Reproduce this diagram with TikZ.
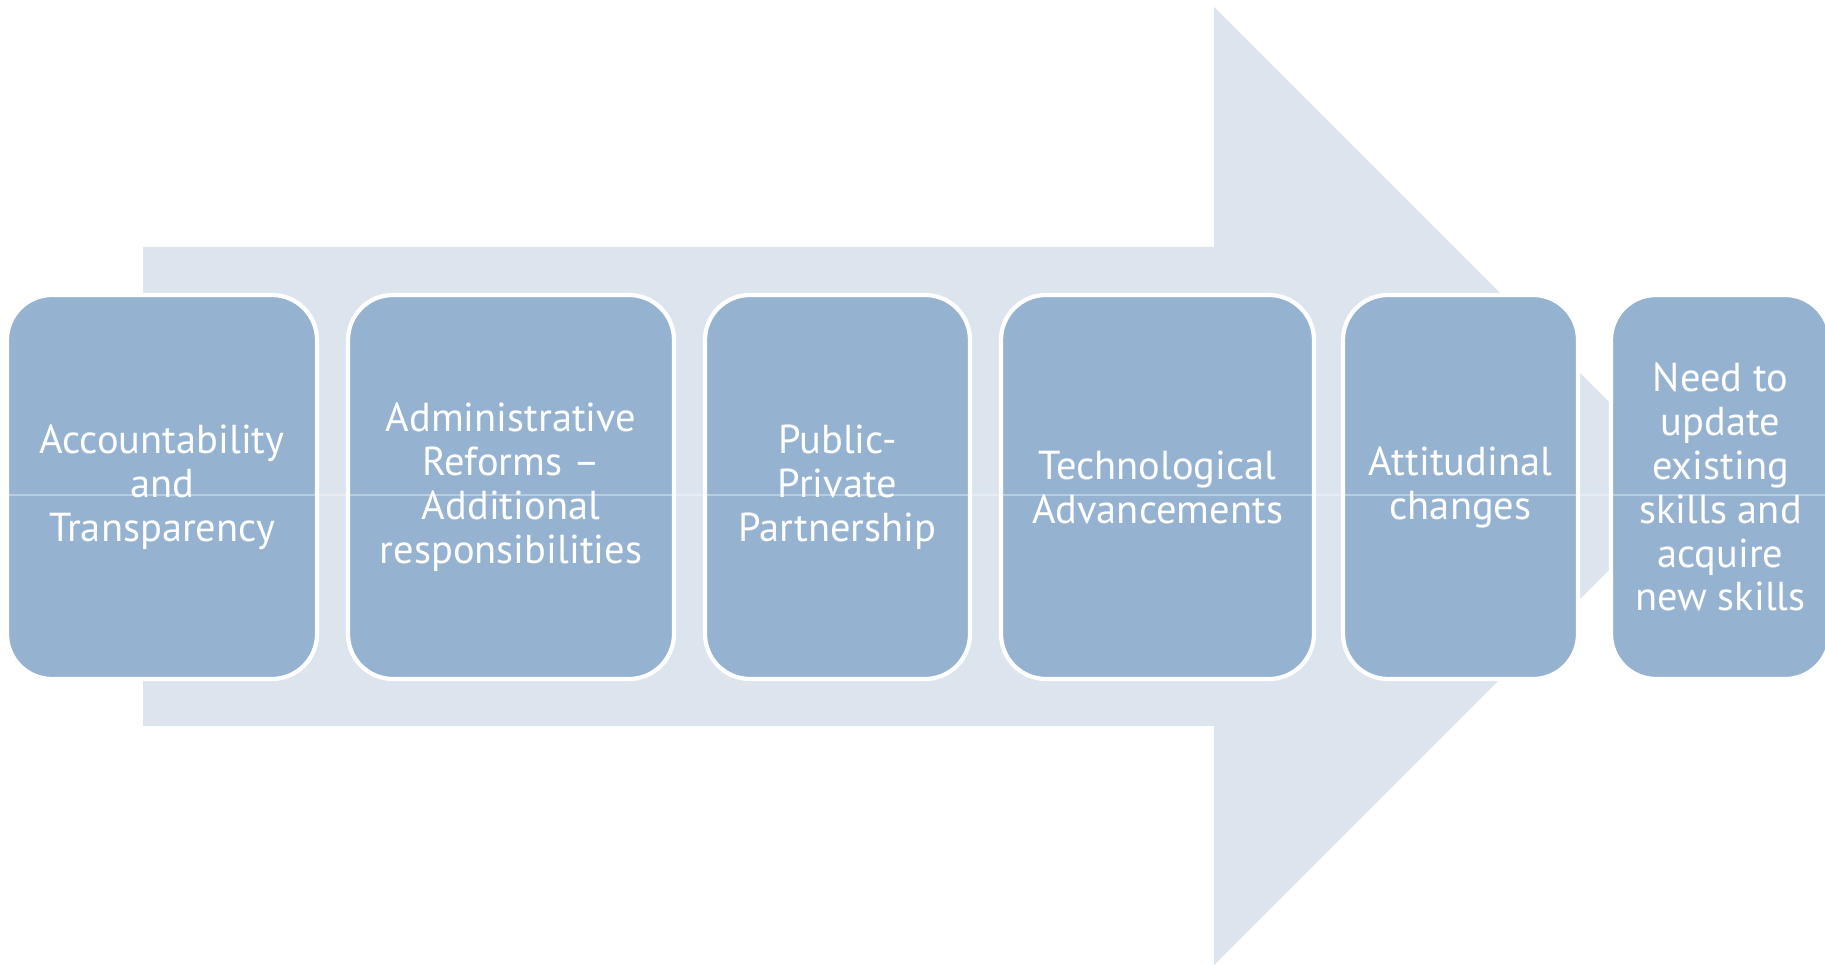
\documentclass[tikz,border=0pt]{standalone}
\usepackage{fontspec}
\setmainfont{PT Sans}
\definecolor{setaazul}{HTML}{DCE4EE}
\definecolor{caixaazul}{HTML}{95B3D1}
\tikzset{caixa/.style={draw=white, line width=1.2pt, fill=caixaazul, rounded corners=0.45cm,
		minimum height=3.84cm, inner sep=0pt, text=white, align=center,
		font=\fontsize{11.5}{12.5}\selectfont}}
\begin{document}
\begin{tikzpicture}[scale=1]  %Inicio
				\useasboundingbox (0,0) rectangle (18.25,9.64); %Tamanho da figura
					%Seta de fundo
				\fill[setaazul] (1.43,7.17) -- (12.14,7.17) -- (12.14,9.57) -- (16.93,4.78) -- (12.14,-0.01) -- (12.14,2.38) -- (1.43,2.38) -- cycle;
					%Caixas
				\node[caixa, minimum width=3.10cm] (account) at (1.62,4.77) {Accountability\\and\\Transparency};
				\node[caixa, minimum width=3.26cm] (reforms) at (5.11,4.77) {Administrative\\Reforms –\\Additional\\responsibilities};
				\node[caixa, minimum width=2.65cm] (ppp) at (8.375,4.77) {Public-\\Private\\Partnership};
				\node[caixa, minimum width=3.13cm] (tech) at (11.575,4.77) {Technological\\Advancements};
				\node[caixa, minimum width=2.35cm] (attitude) at (14.605,4.77) {Attitudinal\\changes};
				\node[caixa, minimum width=2.19cm] (skills) at (17.205,4.77) {Need to\\update\\existing\\skills and\\acquire\\new skills};
					%Linha clara
				\draw[white, opacity=0.35, line width=0.4pt] (0.07,4.69) -- (18.25,4.69);
\end{tikzpicture}
\end{document}
